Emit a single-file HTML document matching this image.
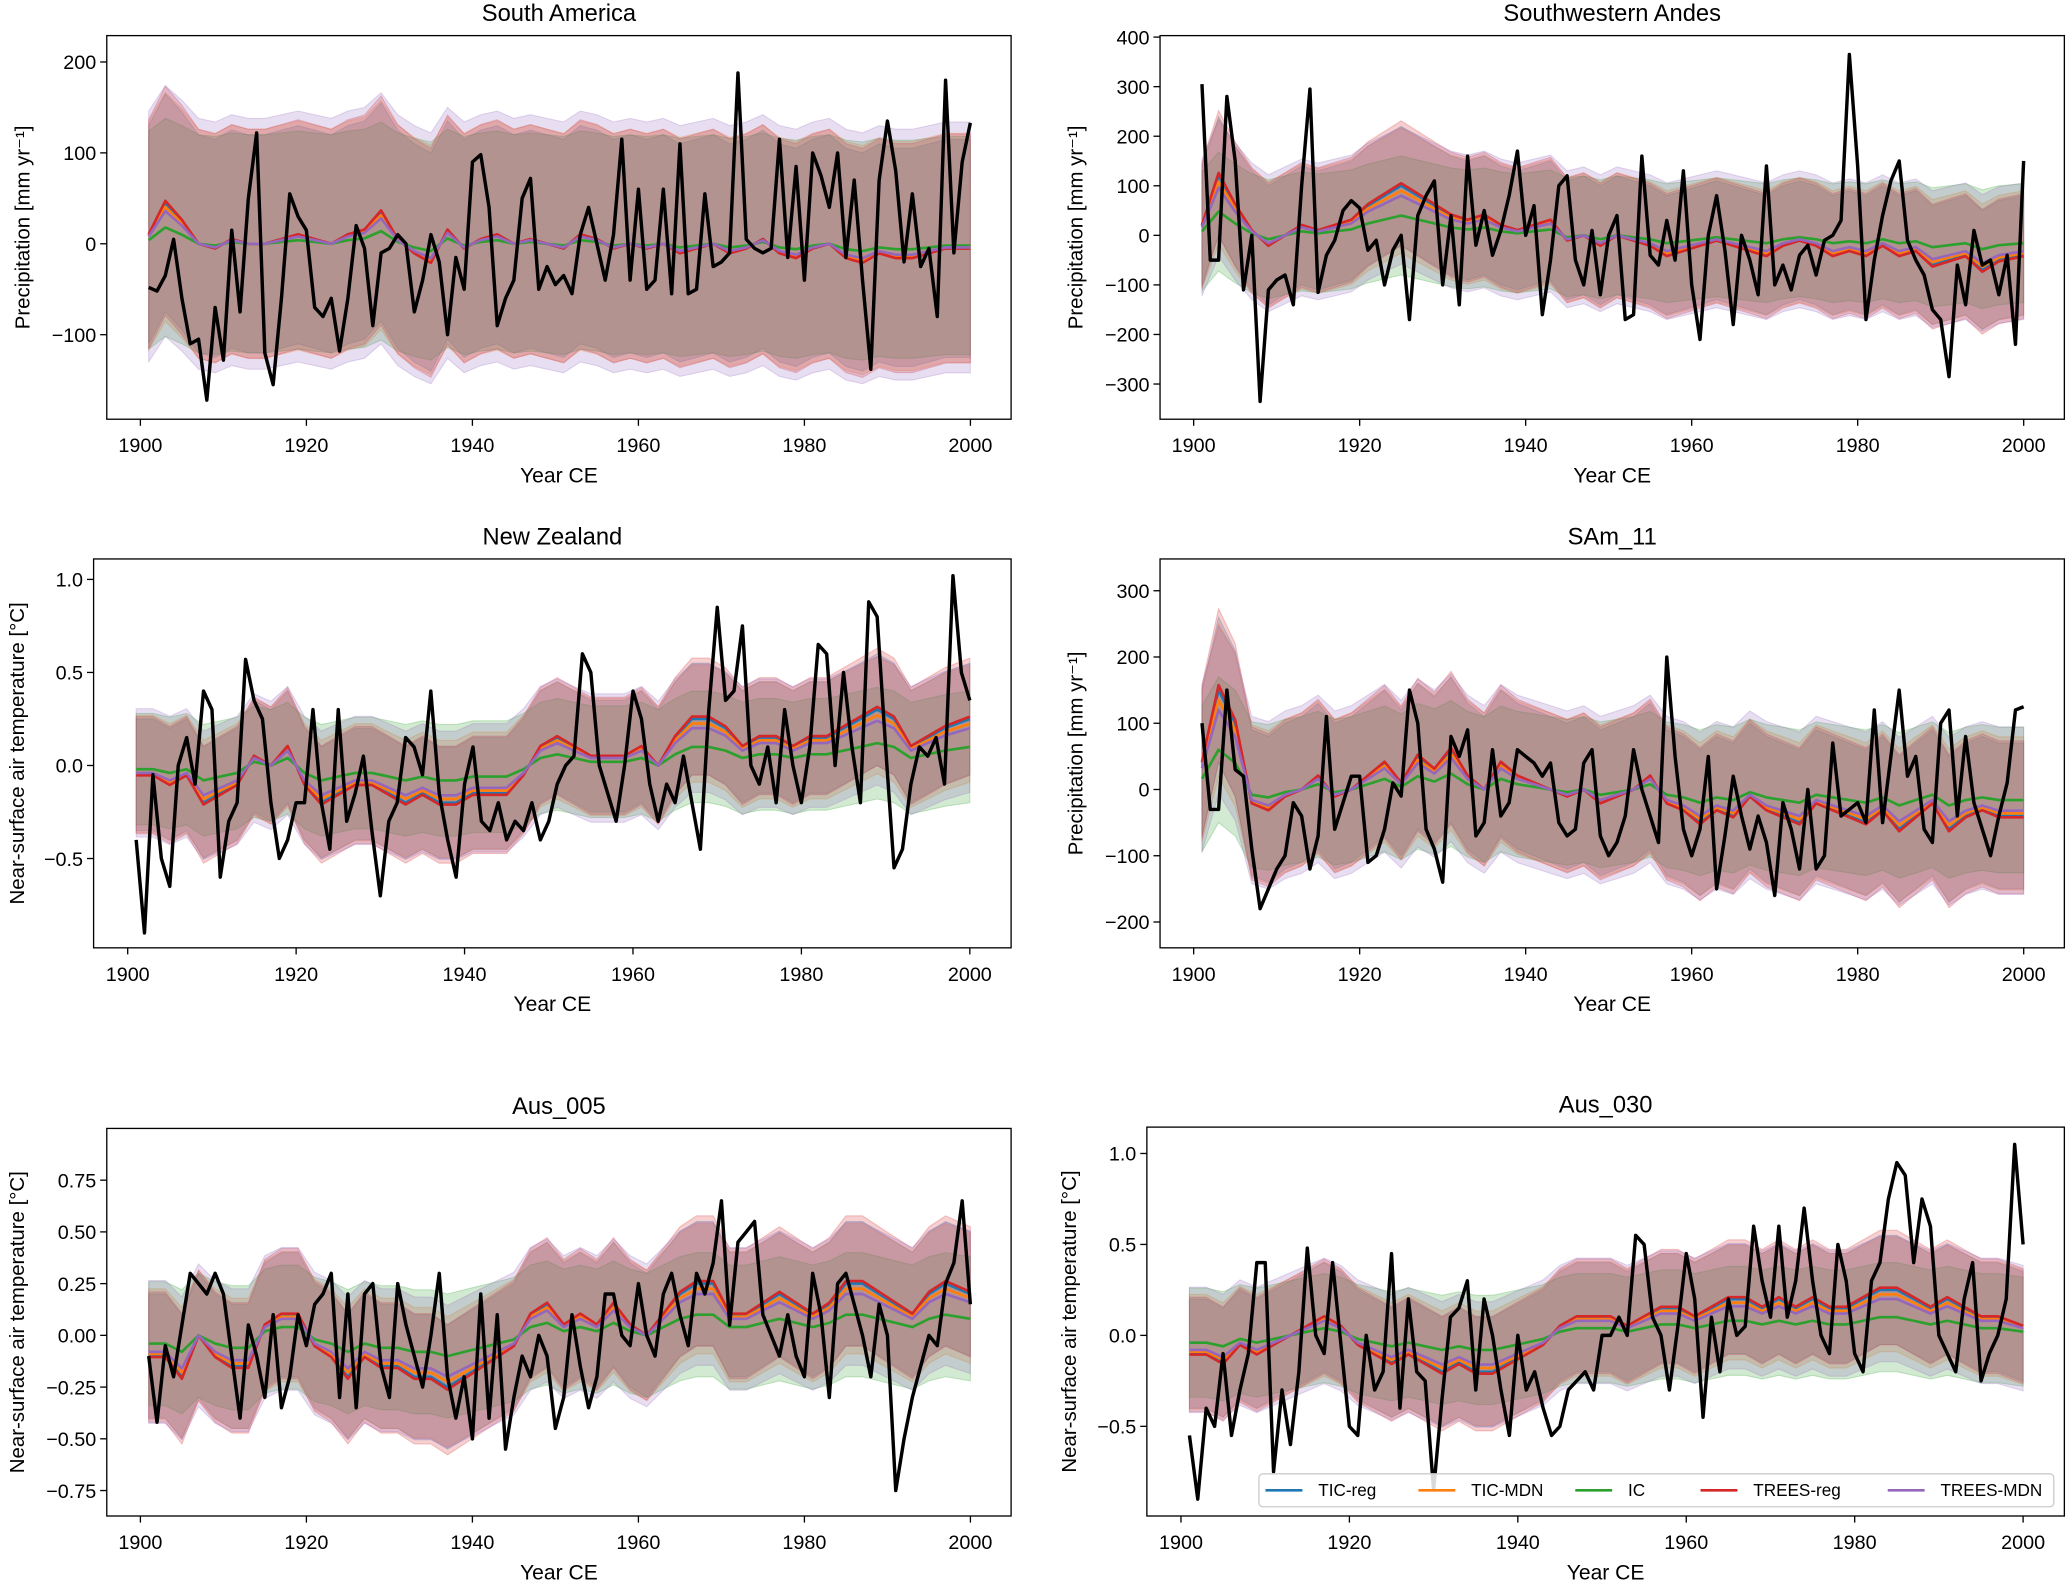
<!DOCTYPE html>
<html><head><meta charset="utf-8"><style>
html,body{margin:0;padding:0;background:#fff;}
svg{display:block;font-family:"Liberation Sans","DejaVu Sans",sans-serif;}
</style></head><body>
<svg id="fig" width="2067" height="1581" viewBox="0 0 1568 1199.3" xmlns="http://www.w3.org/2000/svg"></svg>
<script>
// ---- data ----
const seriesNames = ["TIC-reg","TIC-MDN","IC","TREES-reg","TREES-MDN"];
const seriesColors = ["#1f77b4","#ff7f0e","#2ca02c","#d62728","#9467bd"];
const seriesAmp = [1.0,0.9,0.4,1.05,0.8];
const seriesSpread = [1.0,1.05,1.0,1.05,1.15];

const obsSA = [-48,-52,-35,5,-60,-110,-105,-172,-70,-128,15,-75,50,122,-120,-155,-60,55,30,15,-70,-80,-60,-118,-60,20,-5,-90,-10,-5,10,0,-75,-40,10,-20,-100,-15,-50,90,98,40,-90,-60,-40,50,72,-50,-25,-45,-35,-55,10,40,0,-40,10,115,-40,60,-50,-40,60,-55,110,-55,-50,55,-25,-20,-10,188,5,-5,-10,-5,115,-15,85,-40,100,75,40,100,-15,70,-40,-138,70,135,80,-20,55,-25,-5,-80,180,-10,90,133];
const meanSA = [10,45,25,0,-5,5,0,0,5,10,5,0,10,15,35,5,-10,-20,15,-5,5,10,0,5,0,-5,10,5,-5,0,-5,0,-10,-5,0,-10,-5,5,-10,-15,-5,0,-15,-20,-10,-15,-15,-10,-5,-5];
const obsSWA = [305,-50,-50,280,150,-110,0,-335,-110,-90,-80,-140,100,295,-115,-40,-10,50,70,55,-30,-10,-100,-30,0,-170,40,80,110,-100,40,-140,160,-20,50,-40,10,80,170,0,60,-160,-50,100,120,-50,-100,10,-120,0,40,-170,-160,160,-40,-60,30,-50,130,-100,-210,0,80,-30,-180,0,-50,-120,140,-100,-60,-110,-40,-20,-80,-10,0,30,365,140,-170,-50,40,110,150,-10,-50,-80,-150,-170,-285,-60,-140,10,-60,-50,-120,-40,-220,150];
const meanSWA = [20,120,60,10,-20,0,20,10,20,30,60,80,100,80,60,40,30,40,20,10,20,30,-10,0,-20,0,-10,-20,-40,-30,-20,-10,-20,-30,-40,-20,-10,-20,-40,-30,-40,-20,-40,-30,-60,-50,-40,-70,-50,-40];
const obsNZ = [-0.4,-0.9,-0.05,-0.5,-0.65,0.0,0.15,-0.1,0.4,0.3,-0.6,-0.3,-0.2,0.57,0.35,0.25,-0.2,-0.5,-0.4,-0.2,-0.2,0.3,-0.2,-0.45,0.3,-0.3,-0.15,0.05,-0.35,-0.7,-0.3,-0.2,0.15,0.1,-0.05,0.4,-0.15,-0.4,-0.6,-0.1,0.1,-0.3,-0.35,-0.2,-0.4,-0.3,-0.35,-0.2,-0.4,-0.3,-0.1,0.0,0.05,0.6,0.5,0.0,-0.15,-0.3,0.0,0.4,0.25,-0.1,-0.3,-0.1,-0.2,0.05,-0.2,-0.45,0.3,0.85,0.35,0.4,0.75,0.0,-0.1,0.1,-0.2,0.3,0.0,-0.2,0.1,0.65,0.6,0.0,0.5,0.1,-0.2,0.88,0.8,0.1,-0.55,-0.45,-0.1,0.1,0.05,0.15,-0.1,1.02,0.5,0.35];
const meanNZ = [-0.05,-0.05,-0.1,-0.05,-0.2,-0.15,-0.1,0.05,0.0,0.1,-0.1,-0.2,-0.15,-0.1,-0.1,-0.15,-0.2,-0.15,-0.2,-0.2,-0.15,-0.15,-0.15,-0.05,0.1,0.15,0.1,0.05,0.05,0.05,0.1,0.0,0.15,0.25,0.25,0.2,0.1,0.15,0.15,0.1,0.15,0.15,0.2,0.25,0.3,0.25,0.1,0.15,0.2,0.25];
const obsSAm = [100,-30,-30,150,30,20,-90,-180,-150,-120,-100,-20,-40,-120,-70,110,-60,-20,20,20,-110,-100,-60,10,-10,150,100,-60,-90,-140,80,50,90,-70,-50,60,-40,-20,60,50,40,20,40,-50,-70,-60,40,60,-70,-100,-80,-40,60,0,-40,-80,200,50,-60,-100,-60,50,-150,-70,20,-40,-90,-40,-80,-160,-20,-60,-120,0,-120,-100,70,-40,-30,-20,-50,120,-50,50,150,20,50,-60,-80,100,120,-40,80,-20,-60,-100,-40,10,120,125];
const meanSAm = [40,150,100,-20,-30,-10,0,20,-10,0,20,40,10,50,30,60,20,0,40,20,10,0,-10,0,-20,-10,0,20,-20,-30,-50,-30,-40,-10,-30,-40,-50,-20,-30,-40,-50,-30,-60,-40,-20,-60,-40,-30,-40,-40];
const obsA5 = [-0.1,-0.42,-0.05,-0.2,0.05,0.3,0.25,0.2,0.3,0.2,-0.1,-0.4,0.05,-0.1,-0.3,0.1,-0.35,-0.2,0.1,-0.05,0.15,0.2,0.3,-0.3,0.2,-0.35,0.2,0.25,-0.15,-0.3,0.25,0.05,-0.1,-0.25,0.0,0.3,-0.2,-0.4,-0.2,-0.5,0.2,-0.4,0.1,-0.55,-0.3,-0.1,-0.2,0.0,-0.1,-0.45,-0.3,0.1,-0.15,-0.35,-0.2,0.2,0.2,0.0,-0.05,0.25,0.0,-0.1,0.2,0.3,0.1,-0.05,0.3,0.2,0.35,0.65,0.05,0.45,0.5,0.55,0.1,0.0,-0.1,0.1,-0.1,-0.2,0.3,0.1,-0.3,0.25,0.3,0.15,0.0,-0.2,0.15,0.0,-0.75,-0.5,-0.3,-0.15,0.0,-0.05,0.25,0.35,0.65,0.15];
const meanA5 = [-0.1,-0.1,-0.2,0.0,-0.1,-0.15,-0.15,0.05,0.1,0.1,-0.05,-0.1,-0.2,-0.1,-0.15,-0.15,-0.2,-0.2,-0.25,-0.2,-0.15,-0.1,-0.05,0.1,0.15,0.05,0.1,0.05,0.15,0.05,0.0,0.1,0.2,0.25,0.25,0.1,0.1,0.15,0.2,0.15,0.1,0.15,0.25,0.25,0.2,0.15,0.1,0.2,0.25,0.2];
const obsA30 = [-0.55,-0.9,-0.4,-0.5,-0.1,-0.55,-0.3,-0.1,0.4,0.4,-0.75,-0.3,-0.6,-0.2,0.48,0.0,-0.1,0.4,-0.05,-0.5,-0.55,0.0,-0.3,-0.2,0.45,-0.4,0.2,-0.2,-0.25,-0.85,-0.35,0.1,0.15,0.3,-0.3,0.2,0.0,-0.3,-0.55,0.0,-0.3,-0.2,-0.4,-0.55,-0.5,-0.3,-0.25,-0.2,-0.3,0.0,0.0,0.1,0.0,0.55,0.5,0.1,0.0,-0.3,0.05,0.45,0.2,-0.45,0.1,-0.2,0.2,0.0,0.05,0.6,0.3,0.1,0.6,0.1,0.3,0.7,0.3,0.0,-0.1,0.5,0.3,-0.1,-0.2,0.3,0.4,0.75,0.95,0.88,0.4,0.75,0.6,0.0,-0.1,-0.2,0.2,0.4,-0.25,-0.1,0.0,0.2,1.05,0.5];
const meanA30 = [-0.1,-0.1,-0.15,-0.05,-0.1,-0.05,0.0,0.05,0.1,0.05,-0.05,-0.1,-0.15,-0.1,-0.15,-0.2,-0.15,-0.2,-0.2,-0.15,-0.1,-0.05,0.05,0.1,0.1,0.1,0.05,0.1,0.15,0.15,0.1,0.15,0.2,0.2,0.15,0.2,0.15,0.2,0.15,0.15,0.2,0.25,0.25,0.2,0.15,0.2,0.15,0.1,0.1,0.05];
const spreads = [120,120,0.3,110,0.3,0.3];
const yTicksSA = [-100,0,100,200];
const yTicksSWA = [-300,-200,-100,0,100,200,300,400];
const yTicksNZ = [-0.5,0.0,0.5,1.0];
const yTicksSAm = [-200,-100,0,100,200,300];
const yTicksA5 = [-0.75,-0.5,-0.25,0.0,0.25,0.5,0.75];
const yTicksA30 = [-0.5,0.0,0.5,1.0];
const xTicks = [1900,1920,1940,1960,1980,2000];

// ---- layout ----
const NS="http://www.w3.org/2000/svg";
const fig=document.getElementById('fig');
function mk(tag,attrs,parent){const e=document.createElementNS(NS,tag);for(const k in attrs)e.setAttribute(k,attrs[k]);(parent||fig).appendChild(e);return e;}
const PRECIP="Precipitation [mm yr⁻¹]";
const TEMP="Near-surface air temperature [°C]";
const panels=[
 {id:"south-america",title:"South America",ty:10,L:81,R:767,T:27,B:318,ymin:-193,ymax:229,obs:obsSA,mean:meanSA,ticks:yTicksSA,dec:0,ylab:PRECIP,ylx:12},
 {id:"southwestern-andes",title:"Southwestern Andes",ty:10,L:880,R:1566,T:27,B:318,ymin:-371,ymax:403,obs:obsSWA,mean:meanSWA,ticks:yTicksSWA,dec:0,ylab:PRECIP,ylx:811},
 {id:"new-zealand",title:"New Zealand",ty:407,L:71,R:767,T:424,B:719,ymin:-0.98,ymax:1.11,obs:obsNZ,mean:meanNZ,ticks:yTicksNZ,dec:1,ylab:TEMP,ylx:8},
 {id:"sam-11",title:"SAm_11",ty:407,L:880,R:1566,T:424,B:719,ymin:-239,ymax:348,obs:obsSAm,mean:meanSAm,ticks:yTicksSAm,dec:0,ylab:PRECIP,ylx:811},
 {id:"aus-005",title:"Aus_005",ty:839,L:81,R:767,T:856,B:1150,ymin:-0.873,ymax:1.0,obs:obsA5,mean:meanA5,ticks:yTicksA5,dec:2,ylab:TEMP,ylx:8},
 {id:"aus-030",title:"Aus_030",ty:838,L:870,R:1566,T:855,B:1150,ymin:-0.993,ymax:1.145,obs:obsA30,mean:meanA30,ticks:yTicksA30,dec:1,ylab:TEMP,ylx:806}
];
const X0=1895.95,X1=2004.9;
function fmt(v,d){const s=Math.abs(v).toFixed(d);return (v<0?"−":"")+s;}

panels.forEach((p,pi)=>{
 const g=mk('g',{});
 
 
 const sx=y=>p.L+(y-X0)/(X1-X0)*(p.R-p.L);
 const sy=v=>p.B-(v-p.ymin)/(p.ymax-p.ymin)*(p.B-p.T);
 const cp=mk('clipPath',{id:'cp'+pi},g);
 mk('rect',{x:p.L,y:p.T,width:p.R-p.L,height:p.B-p.T},cp);
 const plot=mk('g',{'clip-path':'url(#cp'+pi+')'},g);
 const years=p.mean.map((_,i)=>1901+i*2);
 years[years.length-1]=2000;
 seriesNames.forEach((n,si)=>{
  const w=spreads[pi]*seriesSpread[si];
  const up=p.mean.map((m,i)=>sx(years[i]).toFixed(1)+','+sy(m*seriesAmp[si]+w).toFixed(1));
  const dn=p.mean.map((m,i)=>sx(years[i]).toFixed(1)+','+sy(m*seriesAmp[si]-w).toFixed(1)).reverse();
  const b=mk('polygon',{points:up.concat(dn).join(' '),fill:seriesColors[si],'fill-opacity':0.22,stroke:seriesColors[si],'stroke-opacity':0.25,'stroke-width':0.8},plot);
  
  
 });
 seriesNames.forEach((n,si)=>{
  const pts=p.mean.map((m,i)=>sx(years[i]).toFixed(1)+','+sy(m*seriesAmp[si]).toFixed(1)).join(' ');
  const l=mk('polyline',{points:pts,fill:'none',stroke:seriesColors[si],'stroke-width':2,'stroke-linejoin':'round'},plot);
  
  
 });
 const opts=p.obs.map((v,i)=>sx(1901+i).toFixed(1)+','+sy(v).toFixed(1)).join(' ');
 const ol=mk('polyline',{points:opts,fill:'none',stroke:'#000','stroke-width':2.6,'stroke-linejoin':'round'},plot);
 
 
 const fr=mk('rect',{x:p.L,y:p.T,width:p.R-p.L,height:p.B-p.T,fill:'none',stroke:'#000','stroke-width':1},g);
 
 
 xTicks.forEach(t=>{
  const x=sx(t);
  mk('line',{x1:x,x2:x,y1:p.B,y2:p.B+5,stroke:'#000','stroke-width':1},g);
  const tx=mk('text',{x:x,y:p.B+25,'font-size':15,'text-anchor':'middle'},g);
  tx.textContent=t;
  
  
 });
 p.ticks.forEach(t=>{
  const y=sy(t);
  mk('line',{x1:p.L-5,x2:p.L,y1:y,y2:y,stroke:'#000','stroke-width':1},g);
  const tx=mk('text',{x:p.L-8,y:y+5.5,'font-size':15,'text-anchor':'end'},g);
  tx.textContent=fmt(t,p.dec);
  
  
 });
 const xl=mk('text',{x:(p.L+p.R)/2,y:p.B+48,'font-size':16,'text-anchor':'middle'},g);
 xl.textContent="Year CE";
 
 
 const cy=(p.T+p.B)/2;
 const yl=mk('text',{x:p.ylx,y:cy,'font-size':15.5,'text-anchor':'middle',transform:'rotate(-90 '+p.ylx+' '+cy+')','dominant-baseline':'hanging'},g);
 yl.textContent=p.ylab;
 
 
 const tt=mk('text',{x:(p.L+p.R)/2,y:p.ty+6,'font-size':18,'text-anchor':'middle'},g);
 tt.textContent=p.title;
 
 
});

const lg=mk('g',{});


mk('rect',{x:955,y:1118,width:603,height:25,rx:3,fill:'#fff','fill-opacity':0.85,stroke:'#ccc','stroke-width':1},lg);
const legX=[960,1076,1195,1290,1432];
seriesNames.forEach((n,i)=>{
 const e=mk('g',{},lg);
 
 
 mk('line',{x1:legX[i],x2:legX[i]+28,y1:1130.5,y2:1130.5,stroke:seriesColors[i],'stroke-width':2},e);
 const t=mk('text',{x:legX[i]+40,y:1135,'font-size':13},e);
 t.textContent=n;
});
</script>
</body></html>
